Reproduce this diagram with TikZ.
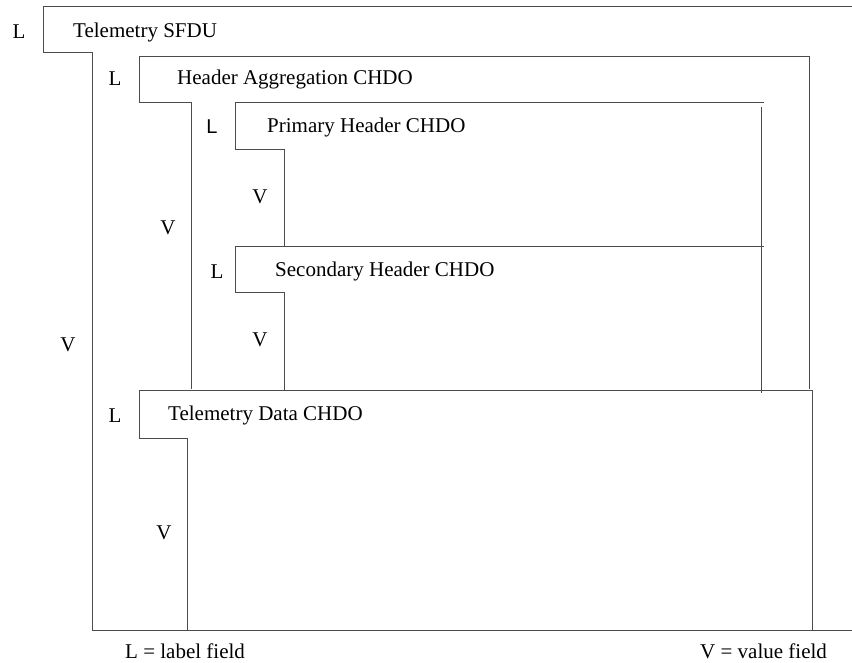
\documentclass[tikz,border=0pt]{standalone}
\usepackage{fontspec}
\setmainfont{Liberation Serif}
\newfontfamily\sffield{Liberation Sans}
\begin{document}
\begin{tikzpicture}[x=1pt,y=-1pt,
    every node/.style={font=\fontsize{21}{25}\selectfont},
    title/.style={anchor=west,inner sep=0pt},
    field/.style={draw=black!70,line width=1pt}]
  \useasboundingbox (0,0) rectangle (852,663);
  \draw
    (19,32) node (sfduL){L}
    (73,32) node[title] (sfdu){Telemetry SFDU}
    (68,345) node (sfduV){V}
    (115,79) node (aggL){L}
    (177,79) node[title] (agg){Header Aggregation CHDO}
    (168,228) node (aggV){V}
    (212,127) node[font=\sffield\fontsize{20}{24}\selectfont] (priL){L}
    (267,127) node[title] (pri){Primary Header CHDO}
    (260,197) node (priV){V}
    (217,272) node (secL){L}
    (275,271) node[title] (sec){Secondary Header CHDO}
    (260,340) node (secV){V}
    (115,416) node (datL){L}
    (168,415) node[title] (dat){Telemetry Data CHDO}
    (164,533) node (datV){V}
    (125,651) node[title] (keyL){L = label field}
    (700,651) node[title] (keyV){V = value field};
  \begin{scope}[field]
    \draw (852,7) -- (43,7) -- (43,53) -- (92,53) -- (92,630) -- (852,630);
    \draw (191,389) -- (191,103) -- (139,103) -- (139,57) -- (809,57) -- (809,389);
    \draw (284,247) -- (284,150) -- (235,150) -- (235,103) -- (764,103);
    \draw (761,107) -- (761,393);
    \draw (284,390) -- (284,293) -- (235,293) -- (235,247) -- (764,247);
    \draw (187,630) -- (187,438) -- (139,438) -- (139,390) -- (812,390) -- (812,630);
  \end{scope}
\end{tikzpicture}
\end{document}
